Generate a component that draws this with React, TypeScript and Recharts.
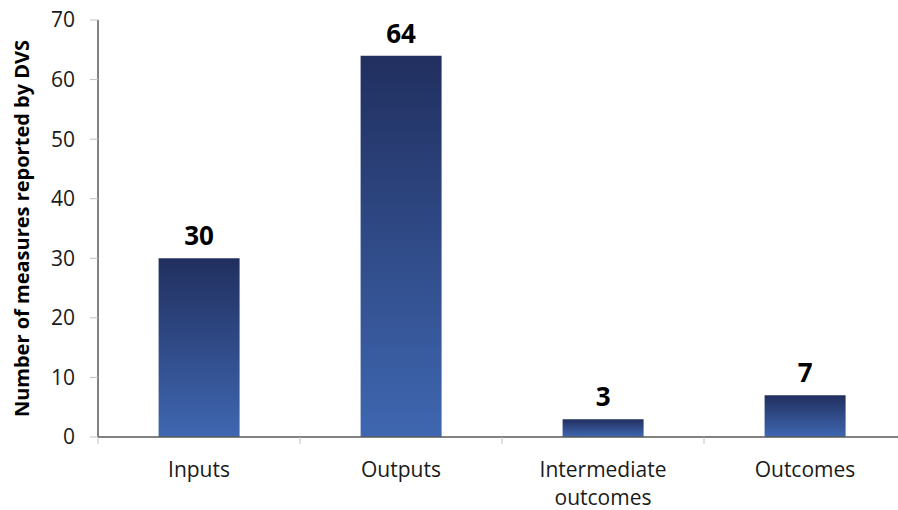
import { Bar, BarChart, LabelList, XAxis, YAxis } from "recharts";

const categories = ["Inputs", "Outputs", "Intermediate outcomes", "Outcomes"];
const measures = [30, 64, 3, 7];
const yTicks = [0, 10, 20, 30, 40, 50, 60, 70];

const data = categories.map((name, i) => ({ name, measures: measures[i] }));

const FONT = "'Open Sans', 'Noto Sans', sans-serif";

function CategoryTick(props: any) {
  const { x, y, payload } = props;
  const words: string[] = payload.value === "Intermediate outcomes" ? ["Intermediate", "outcomes"] : [payload.value];
  const half = 101;
  return (
    <g>
      <line x1={x - half} y1={y - 8} x2={x - half} y2={y - 1} stroke="#bfbfbf" />
      <text x={x} y={y + 32} textAnchor="middle" fontSize={21} fill="#1a1a1a" fontFamily={FONT}>
        {words.map((w, i) => (
          <tspan key={w} x={x} dy={i === 0 ? 0 : 28}>
            {w}
          </tspan>
        ))}
      </text>
    </g>
  );
}

export default function App() {
  return (
    <div style={{ position: "fixed", left: 0, top: 0, width: 898, height: 510, overflow: "hidden", background: "#fff" }}>
      <BarChart
        width={910}
        height={510}
        data={data}
        margin={{ top: 20, right: 4, left: 0, bottom: 0 }}
        barCategoryGap="30%"
      >
        <defs>
          <linearGradient id="barFill" x1="0" y1="0" x2="0" y2="1">
            <stop offset="0%" stopColor="#212f5f" />
            <stop offset="100%" stopColor="#3f67b1" />
          </linearGradient>
        </defs>
        <XAxis
          dataKey="name"
          height={73}
          tick={<CategoryTick />}
          tickLine={false}
          axisLine={{ stroke: "#595959", strokeWidth: 1.5 }}
          interval={0}
        />
        <YAxis
          domain={[0, 70]}
          ticks={yTicks}
          width={98}
          tickSize={8}
          tickMargin={15}
          tickLine={{ stroke: "#bfbfbf" }}
          axisLine={{ stroke: "#595959", strokeWidth: 1.5 }}
          tick={{ fontSize: 21, fill: "#1a1a1a", fontFamily: FONT }}
          label={{
            value: "Number of measures reported by DVS",
            angle: -90,
            position: "insideLeft",
            dx: 17,
            style: { textAnchor: "middle", fontSize: 20, fontWeight: 700, fill: "#000", fontFamily: FONT },
          }}
        />
        <Bar dataKey="measures" fill="url(#barFill)" isAnimationActive={false}>
          <LabelList
            dataKey="measures"
            position="top"
            offset={13}
            style={{ fontSize: 26, fontWeight: 700, fill: "#000", fontFamily: FONT }}
          />
        </Bar>
      </BarChart>
    </div>
  );
}
